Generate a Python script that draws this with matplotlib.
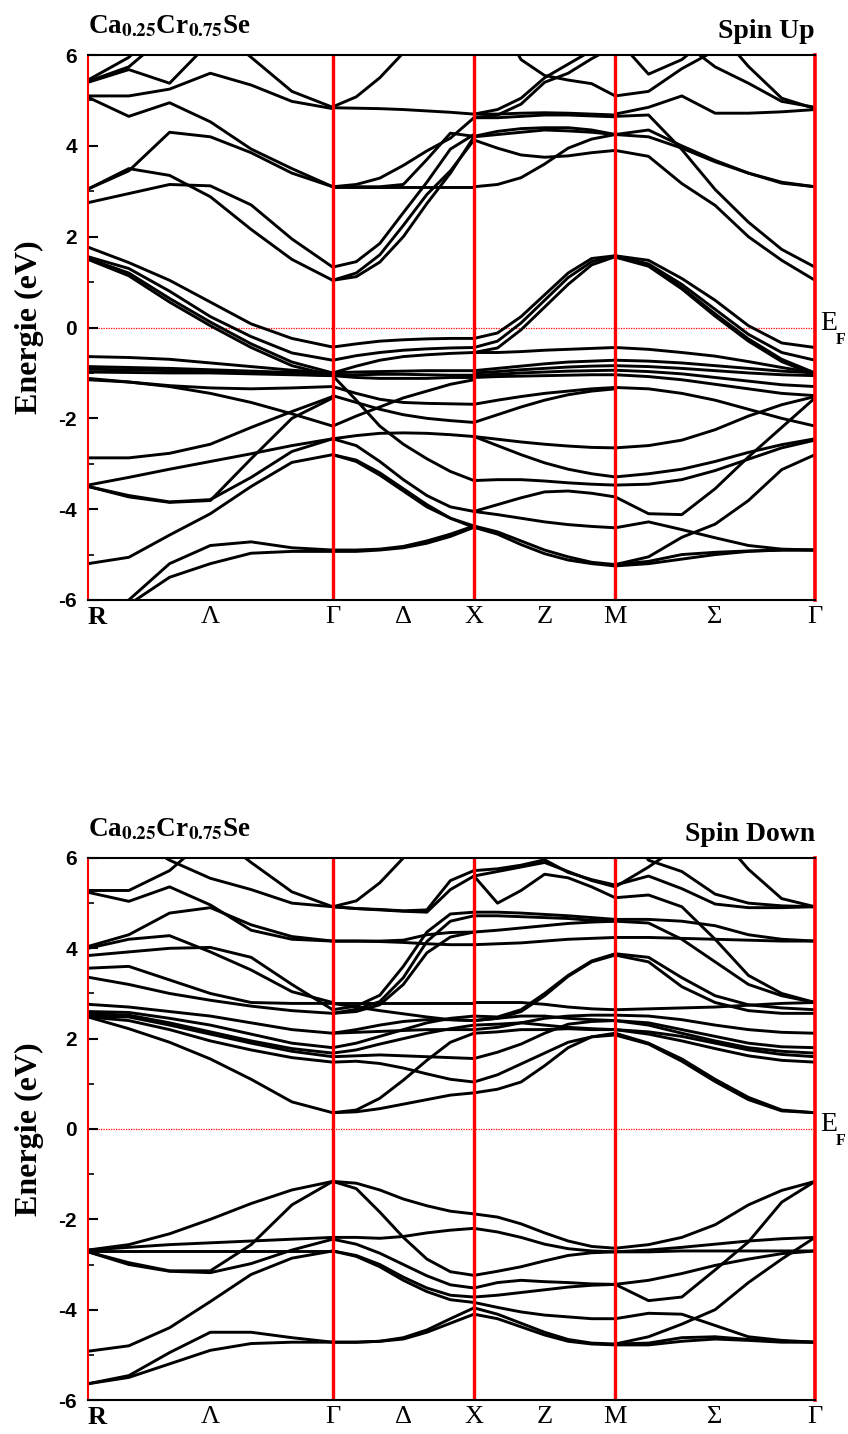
import numpy as np
import matplotlib.pyplot as plt

plt.rcParams['mathtext.fontset'] = 'stix'

# path R-Γ-X-M-Γ, segment lengths in units of 2π/a
seg_len = [np.sqrt(3) / 2, 0.5, 0.5, np.sqrt(2) / 2]
kpt_labels = ['R', 'Λ', 'Γ', 'Δ', 'X', 'Z', 'M', 'Σ', 'Γ']
y_ticks = [6, 4, 2, 0, -2, -4, -6]
y_tick_labels = ['6', '4', '2', '0', '-2', '-4', '-6']
formula = r'Ca$_{\mathbf{0.25}}$Cr$_{\mathbf{0.75}}$Se'
titles = ['Spin Up', 'Spin Down']

# band energies (eV) at 7 equally spaced k points on each segment
up_R_G = [
    [5.42, 5.74, 6.50, 7.00, 7.00, 7.00, 7.00],
    [5.45, 5.95, 6.80, 7.20, 7.30, 7.30, 7.30],
    [5.40, 5.68, 5.38, 6.30, 7.00, 7.00, 7.00],
    [5.10, 5.10, 5.25, 5.60, 5.34, 4.98, 4.82],
    [5.07, 4.65, 4.95, 4.53, 3.93, 3.50, 3.10],
    [3.05, 3.45, 4.30, 4.20, 3.85, 3.40, 3.10],
    [3.05, 3.50, 3.35, 2.88, 2.16, 1.50, 1.04],
    [2.75, 2.95, 3.15, 3.12, 2.70, 1.95, 1.33],
    [7.50, 7.50, 7.30, 6.70, 5.95, 5.20, 4.85],
    [1.77, 1.43, 1.04, 0.56, 0.08, -0.24, -0.43],
    [1.56, 1.30, 0.80, 0.24, -0.20, -0.56, -0.72],
    [1.52, 1.20, 0.64, 0.12, -0.36, -0.76, -1.00],
    [1.50, 1.14, 0.56, 0.04, -0.44, -0.84, -1.06],
    [-0.64, -0.66, -0.70, -0.78, -0.86, -0.94, -1.00],
    [-0.86, -0.88, -0.90, -0.93, -0.96, -0.99, -1.00],
    [-0.92, -0.93, -0.95, -0.98, -1.00, -1.02, -1.06],
    [-0.98, -0.99, -1.00, -1.00, -1.02, -1.04, -1.06],
    [-1.12, -1.20, -1.30, -1.45, -1.65, -1.90, -2.17],
    [-1.15, -1.20, -1.28, -1.33, -1.35, -1.33, -1.30],
    [-2.87, -2.87, -2.77, -2.57, -2.20, -1.85, -1.52],
    [-3.47, -3.30, -3.12, -2.95, -2.78, -2.60, -2.45],
    [-3.50, -3.73, -3.85, -3.81, -2.89, -2.00, -1.55],
    [-3.50, -3.70, -3.84, -3.79, -3.30, -2.73, -2.45],
    [-5.20, -5.06, -4.57, -4.10, -3.50, -2.97, -2.80],
    [-6.30, -6.00, -5.20, -4.80, -4.72, -4.85, -4.90],
    [-6.50, -6.10, -5.50, -5.20, -4.97, -4.93, -4.93],
]
up_G_X = [
    [4.86, 5.08, 5.50, 6.05, 6.60, 7.00, 7.20],
    [4.84, 4.83, 4.82, 4.80, 4.77, 4.74, 4.70],
    [3.10, 3.10, 3.10, 3.10, 3.10, 3.10, 3.10],
    [3.10, 3.15, 3.29, 3.57, 3.89, 4.17, 4.62],
    [3.10, 3.10, 3.10, 3.15, 3.70, 4.28, 4.21],
    [1.33, 1.45, 1.85, 2.53, 3.20, 3.93, 4.25],
    [1.04, 1.20, 1.60, 2.25, 2.93, 3.45, 4.13],
    [1.04, 1.12, 1.44, 2.00, 2.73, 3.40, 4.20],
    [-0.43, -0.36, -0.30, -0.27, -0.25, -0.24, -0.24],
    [-0.72, -0.62, -0.55, -0.50, -0.47, -0.45, -0.44],
    [-1.00, -0.85, -0.72, -0.64, -0.60, -0.57, -0.55],
    [-1.00, -0.98, -0.97, -0.96, -0.95, -0.95, -0.95],
    [-1.06, -1.04, -1.03, -1.03, -1.04, -1.05, -1.05],
    [-1.06, -1.10, -1.12, -1.12, -1.12, -1.10, -1.10],
    [-2.17, -1.95, -1.75, -1.55, -1.40, -1.25, -1.15],
    [-1.30, -1.45, -1.58, -1.65, -1.67, -1.68, -1.69],
    [-1.50, -1.65, -1.80, -1.92, -2.00, -2.05, -2.09],
    [-2.45, -2.38, -2.33, -2.32, -2.33, -2.36, -2.40],
    [-1.06, -1.60, -2.17, -2.57, -2.89, -3.17, -3.37],
    [-2.45, -2.60, -2.95, -3.35, -3.70, -3.95, -4.05],
    [-2.80, -2.95, -3.25, -3.60, -3.95, -4.20, -4.37],
    [-2.80, -2.92, -3.20, -3.55, -3.90, -4.20, -4.40],
    [-4.90, -4.90, -4.88, -4.82, -4.70, -4.55, -4.37],
    [-4.93, -4.93, -4.90, -4.85, -4.75, -4.60, -4.40],
]
up_X_M = [
    [4.62, 4.68, 4.92, 5.40, 5.60, 5.92, 6.20],
    [4.70, 4.80, 5.05, 5.50, 5.80, 6.10, 6.40],
    [7.00, 6.80, 5.90, 5.55, 5.45, 5.37, 5.10],
    [4.70, 4.70, 4.72, 4.73, 4.72, 4.70, 4.68],
    [4.62, 4.62, 4.65, 4.68, 4.68, 4.66, 4.64],
    [4.21, 4.32, 4.38, 4.40, 4.40, 4.35, 4.25],
    [4.20, 4.25, 4.30, 4.35, 4.33, 4.30, 4.25],
    [4.13, 3.95, 3.80, 3.75, 3.78, 3.85, 3.90],
    [3.10, 3.15, 3.30, 3.60, 3.95, 4.15, 4.25],
    [-0.24, -0.12, 0.24, 0.72, 1.20, 1.52, 1.58],
    [-0.44, -0.30, 0.10, 0.60, 1.10, 1.45, 1.58],
    [-0.55, -0.45, -0.05, 0.45, 0.95, 1.38, 1.56],
    [-0.55, -0.55, -0.53, -0.50, -0.48, -0.46, -0.44],
    [-0.95, -0.90, -0.85, -0.80, -0.76, -0.74, -0.72],
    [-1.00, -0.97, -0.93, -0.90, -0.87, -0.85, -0.84],
    [-1.05, -1.03, -1.00, -0.98, -0.96, -0.95, -0.94],
    [-1.10, -1.08, -1.07, -1.06, -1.05, -1.04, -1.04],
    [-1.69, -1.60, -1.52, -1.45, -1.40, -1.35, -1.32],
    [-2.09, -1.92, -1.75, -1.60, -1.48, -1.40, -1.35],
    [-2.40, -2.46, -2.52, -2.57, -2.61, -2.64, -2.65],
    [-2.40, -2.60, -2.80, -2.98, -3.12, -3.22, -3.29],
    [-3.37, -3.35, -3.35, -3.38, -3.42, -3.45, -3.47],
    [-4.05, -3.90, -3.75, -3.62, -3.60, -3.65, -3.73],
    [-4.05, -4.12, -4.20, -4.28, -4.34, -4.38, -4.41],
    [-4.37, -4.50, -4.70, -4.90, -5.05, -5.17, -5.22],
    [-4.40, -4.55, -4.78, -4.98, -5.12, -5.20, -5.25],
]
up_M_G = [
    [5.10, 5.20, 5.70, 6.10, 6.60, 7.00, 7.00],
    [4.70, 4.85, 5.10, 4.72, 4.72, 4.75, 4.80],
    [6.40, 5.58, 5.90, 6.50, 7.00, 7.00, 7.00],
    [7.00, 7.00, 6.30, 5.74, 5.38, 4.98, 4.85],
    [7.00, 7.00, 7.00, 6.60, 5.75, 5.05, 4.82],
    [4.65, 4.68, 3.92, 3.04, 2.32, 1.72, 1.33],
    [4.25, 4.35, 4.00, 3.68, 3.40, 3.18, 3.10],
    [4.25, 4.20, 3.95, 3.65, 3.40, 3.20, 3.10],
    [3.90, 3.77, 3.17, 2.69, 2.00, 1.48, 1.04],
    [1.58, 1.48, 1.08, 0.60, 0.04, -0.34, -0.44],
    [1.58, 1.40, 0.95, 0.40, -0.15, -0.55, -0.72],
    [1.56, 1.38, 0.88, 0.30, -0.25, -0.70, -1.00],
    [1.55, 1.35, 0.85, 0.25, -0.30, -0.75, -1.04],
    [-0.44, -0.48, -0.55, -0.63, -0.75, -0.88, -1.00],
    [-0.72, -0.74, -0.78, -0.84, -0.90, -0.96, -1.00],
    [-0.84, -0.86, -0.90, -0.95, -1.00, -1.04, -1.06],
    [-0.94, -0.97, -1.02, -1.10, -1.18, -1.26, -1.30],
    [-1.04, -1.08, -1.15, -1.25, -1.35, -1.45, -1.50],
    [-1.32, -1.35, -1.45, -1.60, -1.80, -2.00, -2.17],
    [-2.65, -2.60, -2.48, -2.25, -1.95, -1.70, -1.52],
    [-3.29, -3.22, -3.12, -2.95, -2.75, -2.58, -2.45],
    [-3.47, -3.45, -3.35, -3.15, -2.90, -2.65, -2.48],
    [-3.73, -4.10, -4.12, -3.55, -2.85, -2.20, -1.55],
    [-4.41, -4.28, -4.45, -4.63, -4.80, -4.88, -4.90],
    [-5.22, -5.05, -4.62, -4.33, -3.81, -3.13, -2.80],
    [-5.25, -5.20, -5.10, -5.00, -4.93, -4.90, -4.90],
    [-5.22, -5.15, -5.00, -4.95, -4.92, -4.90, -4.90],
]

dn_R_G = [
    [5.28, 5.28, 5.72, 6.50, 7.00, 7.00, 7.00],
    [5.24, 5.04, 5.36, 4.96, 4.40, 4.20, 4.16],
    [7.00, 6.50, 5.95, 5.55, 5.30, 5.00, 4.92],
    [7.00, 7.00, 7.00, 6.60, 5.90, 5.25, 4.92],
    [4.04, 4.30, 4.78, 4.90, 4.52, 4.26, 4.16],
    [4.00, 4.20, 4.28, 3.92, 3.52, 3.04, 2.80],
    [3.84, 3.92, 4.00, 4.02, 3.80, 3.20, 2.64],
    [3.56, 3.60, 3.30, 3.00, 2.80, 2.78, 2.78],
    [3.36, 3.20, 3.00, 2.85, 2.72, 2.62, 2.56],
    [2.76, 2.70, 2.60, 2.50, 2.35, 2.20, 2.12],
    [2.60, 2.58, 2.45, 2.30, 2.10, 1.90, 1.80],
    [2.56, 2.52, 2.35, 2.15, 1.95, 1.78, 1.68],
    [2.50, 2.48, 2.30, 2.10, 1.90, 1.72, 1.60],
    [2.48, 2.40, 2.20, 1.95, 1.75, 1.58, 1.48],
    [2.48, 2.22, 1.92, 1.55, 1.10, 0.60, 0.36],
    [-2.68, -2.56, -2.32, -2.00, -1.65, -1.35, -1.16],
    [-2.68, -2.62, -2.56, -2.52, -2.48, -2.44, -2.40],
    [-2.70, -2.70, -2.70, -2.70, -2.70, -2.70, -2.70],
    [-2.72, -2.96, -3.14, -3.14, -2.56, -1.68, -1.16],
    [-2.72, -3.00, -3.15, -3.18, -2.98, -2.68, -2.44],
    [-4.92, -4.80, -4.40, -3.82, -3.22, -2.86, -2.70],
    [-5.64, -5.46, -4.95, -4.50, -4.50, -4.62, -4.72],
    [-5.64, -5.50, -5.20, -4.90, -4.75, -4.72, -4.72],
]
dn_G_X = [
    [4.92, 5.05, 5.45, 6.00, 6.60, 7.00, 7.00],
    [4.92, 4.88, 4.86, 4.83, 4.85, 5.50, 5.72],
    [4.92, 4.88, 4.85, 4.82, 4.80, 5.30, 5.60],
    [4.16, 4.16, 4.16, 4.18, 4.30, 4.35, 4.36],
    [4.16, 4.16, 4.15, 4.13, 4.10, 4.08, 4.08],
    [2.64, 2.72, 2.96, 3.60, 4.36, 4.76, 4.80],
    [2.56, 2.65, 2.82, 3.35, 4.15, 4.60, 4.72],
    [2.56, 2.60, 2.75, 3.20, 3.90, 4.25, 4.36],
    [2.80, 2.80, 2.80, 2.80, 2.80, 2.80, 2.80],
    [2.78, 2.70, 2.62, 2.55, 2.48, 2.42, 2.40],
    [2.12, 2.20, 2.30, 2.38, 2.42, 2.42, 2.40],
    [2.12, 2.14, 2.16, 2.18, 2.20, 2.20, 2.20],
    [1.80, 1.90, 2.05, 2.20, 2.35, 2.45, 2.50],
    [1.68, 1.75, 1.88, 2.00, 2.12, 2.22, 2.30],
    [1.60, 1.62, 1.64, 1.62, 1.60, 1.58, 1.56],
    [1.48, 1.50, 1.45, 1.35, 1.22, 1.10, 1.04],
    [0.36, 0.38, 0.45, 0.55, 0.65, 0.75, 0.80],
    [0.36, 0.42, 0.68, 1.08, 1.52, 1.92, 2.12],
    [-1.16, -1.20, -1.35, -1.55, -1.70, -1.82, -1.88],
    [-1.16, -1.32, -1.84, -2.40, -2.88, -3.16, -3.24],
    [-2.40, -2.40, -2.42, -2.38, -2.30, -2.24, -2.20],
    [-2.70, -2.82, -3.05, -3.35, -3.60, -3.78, -3.84],
    [-2.70, -2.80, -3.00, -3.28, -3.52, -3.68, -3.72],
    [-2.44, -2.55, -2.75, -3.00, -3.25, -3.45, -3.52],
    [-4.72, -4.72, -4.70, -4.62, -4.45, -4.20, -3.96],
    [-4.72, -4.72, -4.70, -4.65, -4.50, -4.30, -4.10],
]
dn_X_M = [
    [5.72, 5.76, 5.84, 5.96, 5.68, 5.52, 5.40],
    [5.60, 5.70, 5.80, 5.90, 5.70, 5.50, 5.36],
    [5.60, 5.00, 5.28, 5.64, 5.56, 5.36, 5.12],
    [4.80, 4.80, 4.78, 4.75, 4.72, 4.68, 4.64],
    [4.72, 4.72, 4.70, 4.68, 4.66, 4.62, 4.60],
    [4.36, 4.40, 4.45, 4.50, 4.55, 4.58, 4.60],
    [4.08, 4.10, 4.12, 4.16, 4.20, 4.22, 4.24],
    [2.80, 2.80, 2.80, 2.76, 2.70, 2.66, 2.64],
    [2.50, 2.48, 2.64, 3.00, 3.40, 3.72, 3.88],
    [2.40, 2.45, 2.60, 2.95, 3.38, 3.70, 3.85],
    [2.40, 2.45, 2.50, 2.50, 2.45, 2.42, 2.40],
    [2.30, 2.32, 2.35, 2.30, 2.25, 2.22, 2.20],
    [2.20, 2.25, 2.35, 2.45, 2.50, 2.52, 2.52],
    [2.12, 2.15, 2.20, 2.20, 2.22, 2.20, 2.20],
    [1.56, 1.70, 1.88, 2.12, 2.32, 2.38, 2.40],
    [1.04, 1.20, 1.44, 1.68, 1.92, 2.04, 2.08],
    [0.80, 0.88, 1.04, 1.40, 1.80, 2.04, 2.12],
    [-1.88, -1.95, -2.10, -2.30, -2.48, -2.60, -2.64],
    [-2.20, -2.28, -2.40, -2.55, -2.65, -2.70, -2.72],
    [-3.24, -3.15, -3.05, -2.92, -2.80, -2.74, -2.72],
    [-3.52, -3.40, -3.35, -3.38, -3.40, -3.43, -3.44],
    [-3.72, -3.68, -3.62, -3.56, -3.50, -3.46, -3.44],
    [-3.84, -3.95, -4.05, -4.12, -4.16, -4.20, -4.20],
    [-3.96, -4.10, -4.30, -4.50, -4.66, -4.74, -4.76],
    [-4.10, -4.20, -4.38, -4.56, -4.70, -4.76, -4.78],
]
dn_M_G = [
    [5.40, 5.60, 5.32, 4.98, 4.90, 4.90, 4.92],
    [5.36, 5.80, 6.30, 7.00, 7.00, 7.00, 7.00],
    [7.00, 5.95, 5.70, 5.20, 5.00, 4.94, 4.92],
    [7.00, 7.00, 7.00, 6.60, 5.75, 5.10, 4.92],
    [5.12, 5.18, 4.92, 4.20, 3.40, 3.00, 2.80],
    [4.64, 4.64, 4.60, 4.50, 4.30, 4.20, 4.16],
    [4.24, 4.24, 4.22, 4.20, 4.18, 4.16, 4.16],
    [4.60, 4.56, 4.20, 3.70, 3.20, 2.95, 2.80],
    [3.88, 3.80, 3.35, 2.95, 2.75, 2.68, 2.64],
    [3.85, 3.70, 3.15, 2.80, 2.62, 2.56, 2.56],
    [2.64, 2.66, 2.68, 2.70, 2.74, 2.78, 2.80],
    [2.52, 2.50, 2.42, 2.30, 2.20, 2.14, 2.12],
    [2.40, 2.35, 2.20, 2.05, 1.90, 1.82, 1.80],
    [2.40, 2.30, 2.12, 1.95, 1.80, 1.72, 1.68],
    [2.20, 2.15, 2.05, 1.90, 1.75, 1.65, 1.60],
    [2.20, 2.10, 1.95, 1.78, 1.62, 1.52, 1.48],
    [2.12, 1.90, 1.55, 1.10, 0.70, 0.42, 0.36],
    [2.08, 1.88, 1.50, 1.05, 0.65, 0.40, 0.36],
    [-2.64, -2.56, -2.40, -2.12, -1.68, -1.36, -1.16],
    [-2.72, -2.68, -2.62, -2.55, -2.48, -2.43, -2.40],
    [-2.72, -2.72, -2.70, -2.70, -2.70, -2.70, -2.70],
    [-3.44, -3.80, -3.72, -3.12, -2.50, -1.62, -1.16],
    [-3.44, -3.35, -3.20, -3.02, -2.88, -2.76, -2.70],
    [-4.20, -4.08, -4.10, -4.35, -4.60, -4.68, -4.72],
    [-4.76, -4.60, -4.32, -4.00, -3.40, -2.88, -2.40],
    [-4.76, -4.74, -4.62, -4.60, -4.66, -4.70, -4.72],
    [-4.78, -4.78, -4.70, -4.65, -4.68, -4.72, -4.72],
]

spin_up = [up_R_G, up_G_X, up_X_M, up_M_G]
spin_dn = [dn_R_G, dn_G_X, dn_X_M, dn_M_G]

k_nodes = np.concatenate([[0], np.cumsum(seg_len)])
k_label_pos = []
for i in range(4):
    k_label_pos += [k_nodes[i], 0.5 * (k_nodes[i] + k_nodes[i + 1])]
k_label_pos.append(k_nodes[-1])


def draw_bands(ax, segments, title):
    for i, seg in enumerate(segments):
        for band in seg:
            k = np.linspace(k_nodes[i], k_nodes[i + 1], len(band))
            ax.plot(k, band, color='black', lw=2.1, solid_joinstyle='round',
                    solid_capstyle='round', zorder=2)
    for kx in k_nodes[1:-1]:
        ax.axvline(kx, color='red', lw=2.4, zorder=3)
    ax.axhline(0, color='red', lw=0.9, ls=(0, (1, 1)), zorder=1)
    ax.set_xlim(k_nodes[0], k_nodes[-1])
    ax.set_ylim(-6, 6)

    ax.spines['left'].set_color('red')
    ax.spines['left'].set_linewidth(1.5)
    ax.spines['right'].set_color('red')
    ax.spines['right'].set_linewidth(2.6)
    ax.spines['top'].set_linewidth(1.5)
    ax.spines['bottom'].set_linewidth(1.5)
    for s in ax.spines.values():
        s.set_zorder(4)

    ax.set_yticks(y_ticks, y_tick_labels)
    ax.set_yticks(np.arange(-5, 6, 2), minor=True)
    ax.tick_params(axis='y', which='major', direction='in', length=7,
                   width=1.5, labelsize=15, pad=8, right=False)
    ax.tick_params(axis='y', which='minor', direction='in', length=4,
                   width=1.2, right=False)
    for lab in ax.get_yticklabels():
        lab.set_fontfamily('Liberation Sans')
        lab.set_fontweight('bold')

    ax.set_xticks(k_label_pos, kpt_labels)
    ax.tick_params(axis='x', length=0, pad=4, labelsize=19)
    for i, lab in enumerate(ax.get_xticklabels()):
        lab.set_fontfamily('Liberation Serif')
        if i == 0:
            lab.set_fontweight('bold')
            lab.set_horizontalalignment('left')

    ax.set_ylabel('Energie (eV)', fontsize=23, fontweight='bold',
                  fontfamily='Liberation Serif', labelpad=10)
    ax.text(0.0, 1.04, formula, transform=ax.transAxes, ha='left',
            va='baseline', fontsize=19.5, fontweight='bold',
            fontfamily='Liberation Serif')
    ax.text(1.0, 1.031, title, transform=ax.transAxes, ha='right',
            va='baseline', fontsize=20, fontweight='bold',
            fontfamily='Liberation Serif')

    # Fermi level tag on the right edge
    ef = ax.get_yaxis_transform()
    ax.annotate('E', xy=(1, 0), xycoords=ef, xytext=(4, 3),
                textcoords='offset points', ha='left', va='center',
                fontsize=20, fontfamily='Liberation Serif',
                annotation_clip=False)
    ax.annotate('F', xy=(1, 0), xycoords=ef, xytext=(15, -9),
                textcoords='offset points', ha='left', va='center',
                fontsize=11.5, fontweight='bold', fontfamily='Liberation Serif',
                annotation_clip=False)


fig = plt.figure(figsize=(8.48, 14.34), dpi=100)
ax_up = fig.add_axes([0.1038, 0.5816, 0.8573, 0.3800])
ax_dn = fig.add_axes([0.1038, 0.0237, 0.8573, 0.3780])
draw_bands(ax_up, spin_up, titles[0])
draw_bands(ax_dn, spin_dn, titles[1])

fig.savefig('out.png', dpi=100)
